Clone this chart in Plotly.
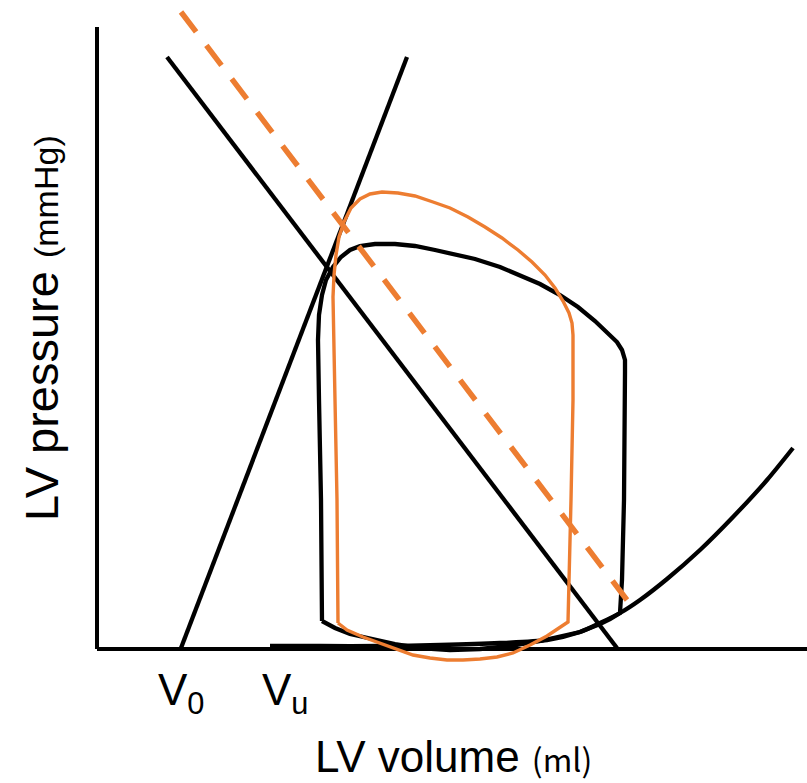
import plotly.graph_objects as go

# Schematic units (volume on x, pressure on y)
espvr_vol = [84, 310]
espvr_pres = [0, 591]

ea_vol = [70, 520]
ea_pres = [591, 0]

ea2_vol = [84, 530]
ea2_pres = [636, 48]

edpvr_vol = [173, 223, 283, 343, 403, 450, 483, 503, 523, 543, 570, 603, 636, 670, 696]
edpvr_pres = [2, 2, 2, 3, 5, 8, 16, 25, 35, 48, 69, 98, 131, 168, 200]

loop1_vol = [225, 224, 222, 221, 222, 225, 229, 236, 244, 253, 263, 278, 298, 318, 338, 358, 378,
             403, 423, 443, 463, 481, 498, 511, 520, 525, 528, 528, 527, 525, 523,
             513, 503, 483, 463, 443, 413, 383, 353, 323, 298, 273, 253, 238, 225]
loop1_pres = [27, 148, 248, 308, 333, 353, 368, 381, 391, 398, 402, 404, 404, 402, 398, 394, 389,
              381, 373, 364, 353, 341, 327, 315, 306, 298, 288, 276, 148, 68, 35,
              29, 24, 16, 11, 7, 2, -1, -2, 0, 4, 9, 14, 20, 27]

loop2_vol = [241, 240, 238, 237, 236, 236, 237, 239, 242, 247, 254, 263, 273, 285, 301, 318, 336,
             353, 371, 388, 405, 421, 435, 448, 458, 466, 472, 475, 476, 476, 474, 472, 471,
             450, 433, 416, 400, 383, 366, 350, 333, 316, 300, 283, 266, 250, 241]
loop2_pres = [25, 148, 248, 298, 328, 351, 373, 393, 411, 426, 440, 449, 454, 456, 455, 452, 446,
              440, 431, 421, 410, 398, 386, 373, 360, 347, 335, 325, 313, 248, 148, 68, 26,
              12, 3, -5, -9, -11, -12, -12, -10, -7, -1, 5, 11, 18, 25]

v0_vol = 84
vu_vol = 188
x_title = ("LV volume <span style='font-family:\"Noto Sans CJK JP\";font-size:32px'>(ml)</span>")
y_title = "LV pressure <span style='font-size:34px'>(mmHg)</span>"

BLACK = "#000000"
ORANGE = "#ED7D31"
FONT = "Liberation Sans, Arial, sans-serif"

fig = go.Figure()

fig.add_trace(go.Scatter(x=edpvr_vol, y=edpvr_pres, mode="lines",
                         line=dict(color=BLACK, width=4.3, shape="spline", smoothing=0.8)))
fig.add_trace(go.Scatter(x=loop1_vol, y=loop1_pres, mode="lines",
                         line=dict(color=BLACK, width=4.3)))
fig.add_trace(go.Scatter(x=espvr_vol, y=espvr_pres, mode="lines",
                         line=dict(color=BLACK, width=4.3)))
fig.add_trace(go.Scatter(x=ea_vol, y=ea_pres, mode="lines",
                         line=dict(color=BLACK, width=4.3)))
fig.add_trace(go.Scatter(x=loop2_vol, y=loop2_pres, mode="lines",
                         line=dict(color=ORANGE, width=3.4)))
fig.add_trace(go.Scatter(x=ea2_vol, y=ea2_pres, mode="lines",
                         line=dict(color=ORANGE, width=5.5, dash="25px,17px")))

# axes lines
fig.add_shape(type="line", x0=0, x1=710, y0=-1, y1=-1, xref="x", yref="y",
              line=dict(color=BLACK, width=4), layer="below")
fig.add_shape(type="line", x0=0, x1=0, y0=-1, y1=621, xref="x", yref="y",
              line=dict(color=BLACK, width=4), layer="below")

fig.add_annotation(x=v0_vol, y=-0.0374, xref="x", yref="paper", text="V<sub>0</sub>", showarrow=False,
                   font=dict(family=FONT, size=44, color=BLACK), xanchor="center", yanchor="middle")
fig.add_annotation(x=vu_vol, y=-0.0374, xref="x", yref="paper", text="V<sub>u</sub>", showarrow=False,
                   font=dict(family=FONT, size=44, color=BLACK), xanchor="center", yanchor="middle")
fig.add_annotation(x=356, y=-0.133, xref="x", yref="paper", text=x_title, showarrow=False,
                   font=dict(family=FONT, size=44, color=BLACK), xanchor="center", yanchor="middle")
fig.add_annotation(x=-0.0713, y=320, xref="paper", yref="y", text=y_title, showarrow=False, textangle=-90,
                   font=dict(family=FONT, size=47, color=BLACK), xanchor="center", yanchor="middle")

fig.update_layout(
    width=807, height=783,
    margin=dict(l=92, r=0, t=0, b=115, autoexpand=False),
    paper_bgcolor="white", plot_bgcolor="white",
    showlegend=False,
    xaxis=dict(range=[-5, 710], visible=False, fixedrange=True),
    yaxis=dict(range=[-20, 648], visible=False, fixedrange=True),
)

fig.write_html("out.html", post_script="document.body.style.margin='0';",
               config={"displayModeBar": False})
